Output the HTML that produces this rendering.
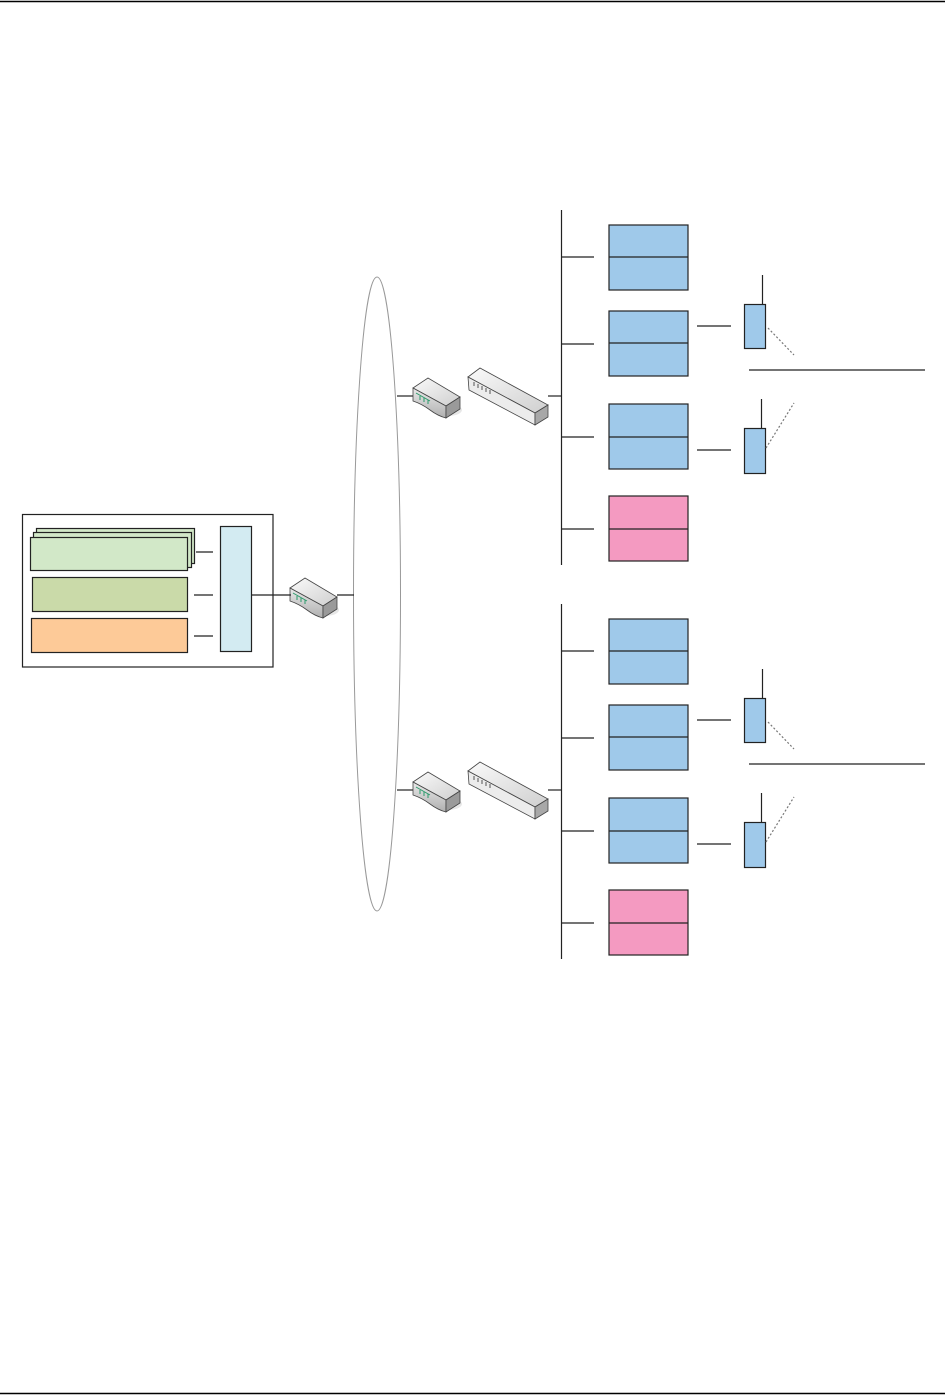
<!DOCTYPE html>
<html><head><meta charset="utf-8"><style>
html,body{margin:0;padding:0;background:#fff;}
svg{display:block}
</style></head><body>
<svg width="945" height="1399" viewBox="0 0 945 1399" xmlns="http://www.w3.org/2000/svg">
<defs>
<linearGradient id="gt" x1="0" y1="0" x2="1" y2="1"><stop offset="0" stop-color="#fafafa"/><stop offset="1" stop-color="#cfcfcf"/></linearGradient>
<linearGradient id="gf" x1="0" y1="0" x2="0" y2="1"><stop offset="0" stop-color="#e8e8e8"/><stop offset="1" stop-color="#b0b0b0"/></linearGradient>
<g id="router">
<ellipse cx="448" cy="410" rx="14" ry="6" fill="#ddd" opacity="0.7"/>
<polygon points="413,388 428,378 460,397 446,406" fill="url(#gt)" stroke="#444" stroke-width="0.8"/>
<path d="M413,388 L446,406 L446,418 Q438,416 430,410 Q422,404 413,401 Z" fill="url(#gf)" stroke="#444" stroke-width="0.8"/>
<polygon points="446,406 460,397 460,409 446,418" fill="#9a9a9a" stroke="#444" stroke-width="0.8"/>
<path d="M416,393 L430,401 M420,396 v4 M424,398 v4 M428,400 v4" stroke="#2a9a6a" stroke-width="1"/>
</g>
<g id="switch">
<polygon points="468,377 480,368 548,405 535,413" fill="url(#gt)" stroke="#444" stroke-width="0.8"/>
<polygon points="468,377 535,413 535,425 469,390" fill="#ececec" stroke="#444" stroke-width="0.8"/>
<polygon points="535,413 548,405 548,417 535,425" fill="#a8a8a8" stroke="#444" stroke-width="0.8"/>
<path d="M474,382 v4 M478,384 v4 M482,386 v4 M486,388 v4 M490,390 v4" stroke="#555" stroke-width="1"/>
</g>
<g id="grp" stroke="#222" stroke-width="1.2" fill="none">
<line x1="561.5" y1="210" x2="561.5" y2="565"/>
<line x1="397" y1="396" x2="413" y2="396"/>
<line x1="548" y1="396" x2="561" y2="396"/>
<line x1="562" y1="257" x2="594" y2="257"/>
<line x1="562" y1="344" x2="594" y2="344"/>
<line x1="562" y1="437" x2="594" y2="437"/>
<line x1="562" y1="529" x2="594" y2="529"/>
<rect x="609" y="225" width="79" height="65" fill="#9fc9ea"/><line x1="609" y1="257" x2="688" y2="257"/>
<rect x="609" y="311" width="79" height="65" fill="#9fc9ea"/><line x1="609" y1="343" x2="688" y2="343"/>
<rect x="609" y="404" width="79" height="65" fill="#9fc9ea"/><line x1="609" y1="437" x2="688" y2="437"/>
<rect x="609" y="496" width="79" height="65" fill="#f49ac1"/><line x1="609" y1="529" x2="688" y2="529"/>
<line x1="697" y1="326" x2="731" y2="326"/>
<line x1="697" y1="450" x2="731" y2="450"/>
<rect x="744.5" y="304.5" width="21" height="44" fill="#9fc9ea"/>
<line x1="762.5" y1="275" x2="762.5" y2="304"/>
<rect x="744.5" y="428.5" width="21" height="45" fill="#9fc9ea"/>
<line x1="761.5" y1="399" x2="761.5" y2="428"/>
<line x1="749" y1="370" x2="925" y2="370"/>
<line x1="768" y1="328" x2="794" y2="355" stroke="#777" stroke-dasharray="2,2"/>
<line x1="766" y1="448" x2="794" y2="403" stroke="#777" stroke-dasharray="2,2"/>
</g>
</defs>
<line x1="0" y1="1.5" x2="945" y2="1.5" stroke="#000" stroke-width="1.5"/>
<line x1="0" y1="1393.5" x2="945" y2="1393.5" stroke="#000" stroke-width="1.5"/>
<ellipse cx="377" cy="594" rx="23.5" ry="317" fill="none" stroke="#999" stroke-width="1"/>
<use href="#grp"/>
<use href="#grp" transform="translate(0,394)"/>
<use href="#router"/>
<use href="#router" transform="translate(0,394)"/>
<use href="#switch"/>
<use href="#switch" transform="translate(0,394)"/>
<use href="#router" transform="translate(-123,200)"/>
<g stroke="#222" stroke-width="1.2">
<rect x="22.5" y="514.5" width="250.5" height="152.5" fill="none"/>
<rect x="36.5" y="528.5" width="158" height="35" fill="#d2e8c8"/>
<rect x="33.5" y="532.5" width="158" height="35" fill="#d2e8c8"/>
<rect x="30.5" y="537.5" width="157" height="33" fill="#d2e8c8"/>
<rect x="32.5" y="577.5" width="155" height="34" fill="#cadaa9"/>
<rect x="31.5" y="618.5" width="156" height="34" fill="#fdca98"/>
<rect x="220.5" y="526.5" width="31" height="125" fill="#d3ebf2"/>
<line x1="196" y1="552" x2="213" y2="552"/>
<line x1="194" y1="595" x2="213" y2="595"/>
<line x1="194" y1="636" x2="213" y2="636"/>
<line x1="252" y1="595" x2="291" y2="595"/>
<line x1="337" y1="595" x2="354" y2="595"/>
</g>
</svg>
</body></html>
